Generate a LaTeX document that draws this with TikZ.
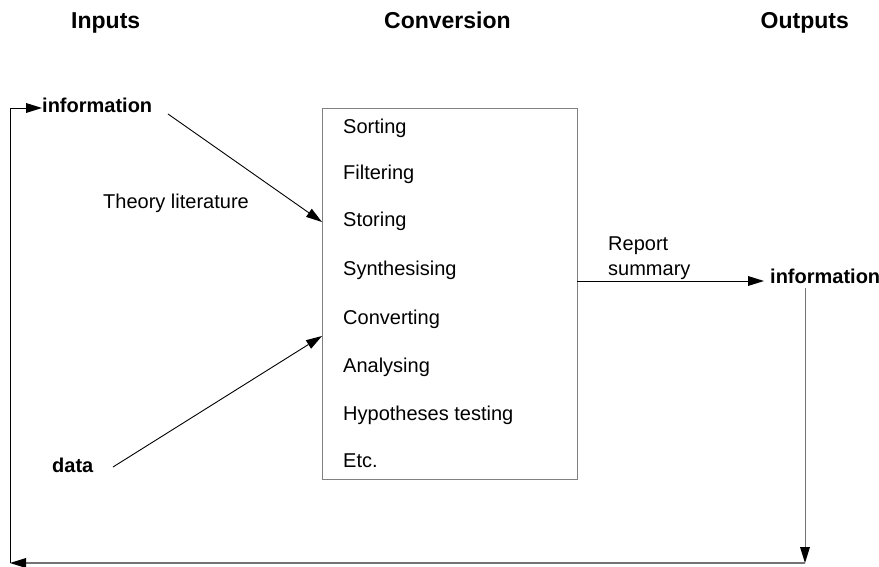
\documentclass[tikz,border=0pt]{standalone}
\usepackage{fontspec}
\setmainfont{Liberation Sans}
\usetikzlibrary{arrows.meta}
\begin{document}
\begin{tikzpicture}[x=1pt,y=-1pt,
  body/.style={inner sep=0pt,anchor=base west,font=\fontsize{20}{24}\selectfont},
  bodyb/.style={body,font=\fontsize{20}{24}\selectfont\bfseries},
  title/.style={inner sep=0pt,anchor=base west,font=\fontsize{23}{27}\selectfont\bfseries},
  tip/.style={-{Triangle[length=16pt,width=10pt,fill=black,line width=0pt]}},
  conn/.style={draw=black,line width=0.9pt,tip},
  gconn/.style={draw=gray!90!black,line width=1pt,tip},
  ln/.style={draw=black,line width=0.9pt}]
\useasboundingbox (0,0) rectangle (879,567);
% titles
\node[title] (tin) at (71,29) {Inputs};
\node[title] (tconv) at (384,29) {Conversion};
\node[title,anchor=base east] (tout) at (849,29) {Outputs};
% conversion box
\node[draw=gray,line width=1.2pt,minimum width=255pt,minimum height=371pt,anchor=north west,inner sep=0pt] (box) at (322,108) {};
\node[body] (i1) at (343,134) {Sorting};
\node[body] (i2) at (343,179.5) {Filtering};
\node[body] (i3) at (343,226.5) {Storing};
\node[body] (i4) at (343,275) {Synthesising};
\node[body] (i5) at (343,324) {Converting};
\node[body] (i6) at (343,372.5) {Analysing};
\node[body] (i7) at (343,420) {Hypotheses testing};
\node[body] (i8) at (343,467) {Etc.};
% inputs
\node[bodyb] (infoL) at (42,113) {information};
\node[body] (theory) at (103,208) {Theory literature};
\node[bodyb] (data) at (52,472) {data};
% outputs
\node[body] (rep) at (608,251) {Report};
\node[body] (summ) at (608,275) {summary};
\node[bodyb] (infoR) at (770,283) {information};
% connector end points
\coordinate (a1) at (168,114);
\coordinate (a2) at (322,222);
\coordinate (b1) at (113,467);
\coordinate (b2) at (322,336);
\coordinate (r1) at (577,281);
\coordinate (r2) at (764,281);
\coordinate (v1) at (805,288);
\coordinate (v2) at (805,563);
\coordinate (c1) at (10,563);
\coordinate (c2) at (10,108);
\coordinate (c3) at (42,108);
% connectors
\draw[conn] (a1) -- (a2);
\draw[conn] (b1) -- (b2);
\draw[conn] (r1) -- (r2);
\draw[gconn] (v1) -- (v2);
\draw[gconn,line width=2pt] (v2) -- (c1);
\draw[conn] (c1) -- (c2) -- (c3);
\end{tikzpicture}
\end{document}
